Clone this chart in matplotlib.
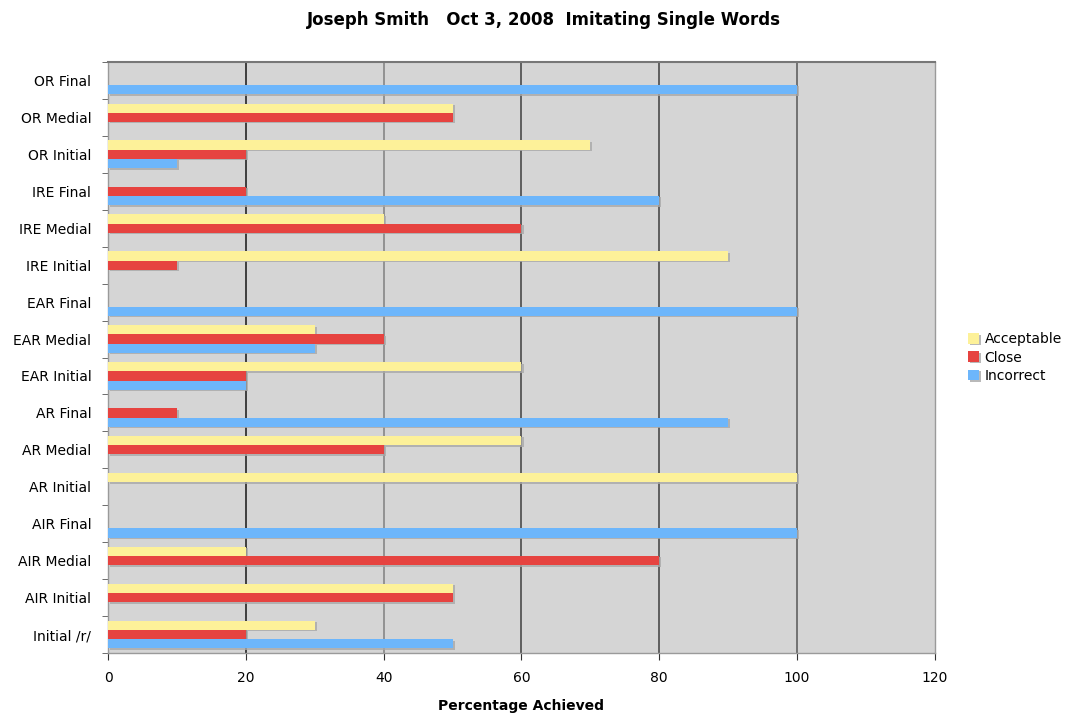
import numpy as np
import matplotlib.pyplot as plt
import matplotlib.patheffects as pe

cats = ['Initial /r/', 'AIR Initial', 'AIR Medial', 'AIR Final',
        'AR Initial', 'AR Medial', 'AR Final',
        'EAR Initial', 'EAR Medial', 'EAR Final',
        'IRE Initial', 'IRE Medial', 'IRE Final',
        'OR Initial', 'OR Medial', 'OR Final']
acceptable = [30, 50, 20, 0, 100, 60, 0, 60, 30, 0, 90, 40, 0, 70, 50, 0]
close      = [20, 50, 80, 0, 0, 40, 10, 20, 40, 0, 10, 60, 20, 20, 50, 0]
incorrect  = [50, 0, 0, 100, 0, 0, 90, 20, 30, 100, 0, 0, 80, 10, 0, 100]

c_acc = '#fdf199'
c_close = '#e64340'
c_inc = '#6db6fb'

fig = plt.figure(figsize=(10.77, 7.15), dpi=100)
ax = fig.add_axes([0.1003, 0.0867, 0.7677, 0.8266])
ax.set_facecolor('#d5d5d5')

y = np.arange(len(cats))
h = 0.25
shadow = [pe.SimplePatchShadow(offset=(1.5, -1), shadow_rgbFace='#a8a8a8', alpha=0.8),
          pe.Normal()]
series = [(acceptable, h, c_acc, 'Acceptable'),
          (close, 0, c_close, 'Close'),
          (incorrect, -h, c_inc, 'Incorrect')]
for vals, off, col, lab in series:
    bars = ax.barh(y + off, vals, height=h, color=col, label=lab, zorder=3)
    for b in bars:
        b.set_path_effects(shadow)

ax.set_xlim(0, 120)
ax.set_ylim(-0.5, len(cats) - 0.5)
ax.set_xticks(np.arange(0, 121, 20))
ax.set_yticks(y)
ax.set_yticklabels(cats)
ax.set_yticks(np.arange(-0.5, len(cats), 1), minor=True)
ax.tick_params(axis='y', which='major', length=0, labelsize=10, pad=12)
ax.tick_params(axis='y', which='minor', length=4, color='#555555')
ax.tick_params(axis='x', length=5, color='#333333', labelsize=10, pad=8)

grid_cols = {20: '#333333', 40: '#8c8c8c', 60: '#555555', 80: '#555555', 100: '#6a6a6a'}
for xv, gc in grid_cols.items():
    ax.axvline(xv, color=gc, lw=1.3, zorder=1)

for s in ax.spines.values():
    s.set_color('#9a9a9a')
    s.set_linewidth(1)
ax.spines['top'].set_color('#777777')
ax.spines['top'].set_linewidth(1.5)

ax.set_xlabel('Percentage Achieved', fontsize=10, fontweight='bold', labelpad=10)
fig.suptitle('Joseph Smith   Oct 3, 2008  Imitating Single Words',
             fontsize=12, fontweight='bold', x=0.505, y=0.985)

ax.legend(loc='center left', bbox_to_anchor=(1.025, 0.5), frameon=False,
          fontsize=10, handlelength=0.8, handleheight=0.8, handletextpad=0.4,
          labelspacing=0.3)

plt.savefig('out.png', dpi=100)
